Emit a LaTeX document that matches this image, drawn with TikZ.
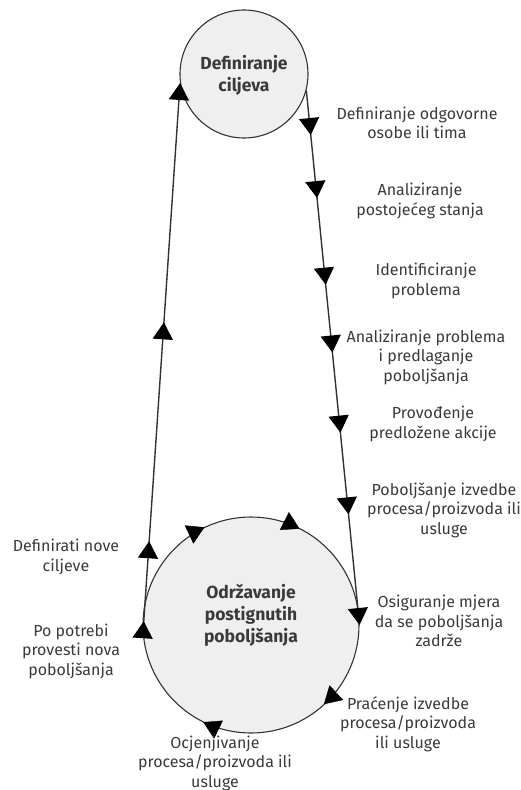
\documentclass[tikz,border=0pt]{standalone}
\usepackage{fontspec}
\setmainfont{Fira Sans}
\usetikzlibrary{arrows.meta,decorations.markings}
\definecolor{txt}{HTML}{3A3A3A}
\definecolor{circfill}{HTML}{EFEFEF}
\definecolor{linec}{HTML}{333333}
\begin{document}
\begin{tikzpicture}[x=1pt,y=-1pt,
  lbl/.style={align=center, font=\fontsize{16}{19.5}\selectfont, text=txt, inner sep=0pt},
  ttl/.style={align=center, font=\fontsize{17.5}{22}\selectfont\bfseries, text=txt, inner sep=0pt},
  circ/.style={circle, draw=linec, fill=circfill, line width=1.1pt, inner sep=0pt},
  conn/.style={line width=1.4pt, draw=linec},
  endtip/.style={-{Triangle[length=17pt,width=20pt,color=black,fill=black]}}
]
\def\tri{\arrow{Triangle[length=17pt,width=20pt,color=black,fill=black]}}
\useasboundingbox (0,0) rectangle (521,790);
% circles
\node[circ, minimum size=128pt] (top) at (244,74) {};
\node[circ, minimum size=216pt] (bot) at (251,625) {};
\node[ttl] (ttop) at (244,75) {Definiranje\\ciljeva};
\node[ttl] (tbot) at (251,615) {Održavanje\\postignutih\\poboljšanja};
% right line
\draw[conn, endtip,
  postaction={decorate}, decoration={markings,
    mark=at position 0.083 with {\tri},
    mark=at position 0.201 with {\tri},
    mark=at position 0.363 with {\tri},
    mark=at position 0.490 with {\tri},
    mark=at position 0.640 with {\tri},
    mark=at position 0.793 with {\tri}}]
  (top.-15) -- (bot.0);
% left line
\draw[conn, endtip,
  postaction={decorate}, decoration={markings,
    mark=at position 0.024 with {\tri},
    mark=at position 0.169 with {\tri},
    mark=at position 0.566 with {\tri}}]
  (bot.185) -- (top.188);
% arrows on big circle (clockwise on screen)
\path[postaction={decorate}, decoration={markings,
    mark=at position 0.180 with {\tri},
    mark=at position 0.325 with {\tri},
    mark=at position 0.631 with {\tri},
    mark=at position 0.822 with {\tri}}]
  (bot.180) arc[start angle=180, end angle=540, radius=108];
% labels
\node[lbl] (l1) at (417,123) {Definiranje odgovorne\\osobe ili tima};
\node[lbl] (l2) at (420,201) {Analiziranje\\postojećeg stanja};
\node[lbl] (l3) at (426,281) {Identificiranje\\problema};
\node[lbl] (l4) at (426,357) {Analiziranje problema\\i predlaganje\\poboljšanja};
\node[lbl] (l5) at (433,424) {Provođenje\\predložene akcije};
\node[lbl] (l6) at (444,510) {Poboljšanje izvedbe\\procesa/proizvoda ili\\usluge};
\node[lbl] (l7) at (439,621) {Osiguranje mjera\\da se poboljšanja\\zadrže};
\node[lbl] (l8) at (408,724) {Praćenje izvedbe\\procesa/proizvoda\\ili usluge};
\node[lbl] (l9) at (215,763) {Ocjenjivanje\\procesa/proizvoda ili\\usluge};
\node[lbl] (l10) at (66,557) {Definirati nove\\ciljeve};
\node[lbl] (l11) at (71,651) {Po potrebi\\provesti nova\\poboljšanja};
\end{tikzpicture}
\end{document}
